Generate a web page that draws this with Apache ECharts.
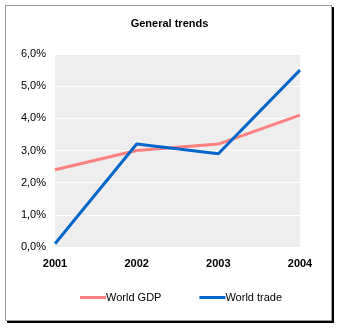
<!DOCTYPE html>
<html><head><meta charset="utf-8">
<script src="https://cdn.jsdelivr.net/npm/echarts@6/dist/echarts.min.js"></script>
<style>html,body{margin:0;padding:0;background:#fff}#c{width:339px;height:328px}</style>
</head><body><div id="c"></div>
<script>
const years = ['2001','2002','2003','2004'];
const worldGDP = [2.4, 3.0, 3.2, 4.1];
const worldTrade = [0.1, 3.2, 2.9, 5.5];
const yTicks = [0,1,2,3,4,5,6];

const chart = echarts.init(document.getElementById('c'));
chart.setOption({
  animation: false,
  backgroundColor: '#fff',
  graphic: [
    {type:'rect', z:-10, shape:{x:7, y:7, width:327, height:316}, style:{fill:'#000'}},
    {type:'rect', z:-9, shape:{x:5.5, y:5.5, width:326, height:315}, style:{fill:'#fff', stroke:'#999', lineWidth:1}}
  ],
  title: {text:'General trends', left:'center', top:13,
    textStyle:{fontFamily:'Liberation Sans, Arial', fontSize:11, fontWeight:'bold', color:'#000'}},
  grid: {left:55, right:39, top:54, bottom:81, show:true, backgroundColor:'#eeeeee', borderWidth:0},
  xAxis: {type:'category', data:years, boundaryGap:false,
    axisLine:{show:false}, axisTick:{show:false},
    axisLabel:{fontFamily:'Liberation Sans, Arial', fontSize:11, fontWeight:'bold', color:'#000', margin:11}},
  yAxis: {type:'value', min:0, max:6, interval:1,
    axisLine:{show:false}, axisTick:{show:false},
    splitLine:{lineStyle:{color:'#fff', width:1}},
    axisLabel:{fontFamily:'Liberation Sans, Arial', fontSize:11, color:'#000', margin:9,
      formatter: v => v.toFixed(1).replace('.', ',') + '%'}},
  legend: {left:75, top:287, itemWidth:26, itemHeight:3, itemGap:38, icon:'rect',
    textStyle:{fontFamily:'Liberation Sans, Arial', fontSize:11, color:'#000', padding:[0,0,0,-5]},
    data:['World GDP','World trade']},
  series: [
    {name:'World GDP', type:'line', data:worldGDP, symbol:'none', lineStyle:{color:'#ff8080', width:3}, itemStyle:{color:'#ff8080'}},
    {name:'World trade', type:'line', data:worldTrade, symbol:'none', lineStyle:{color:'#0066cc', width:3}, itemStyle:{color:'#0066cc'}}
  ]
});
</script></body></html>
